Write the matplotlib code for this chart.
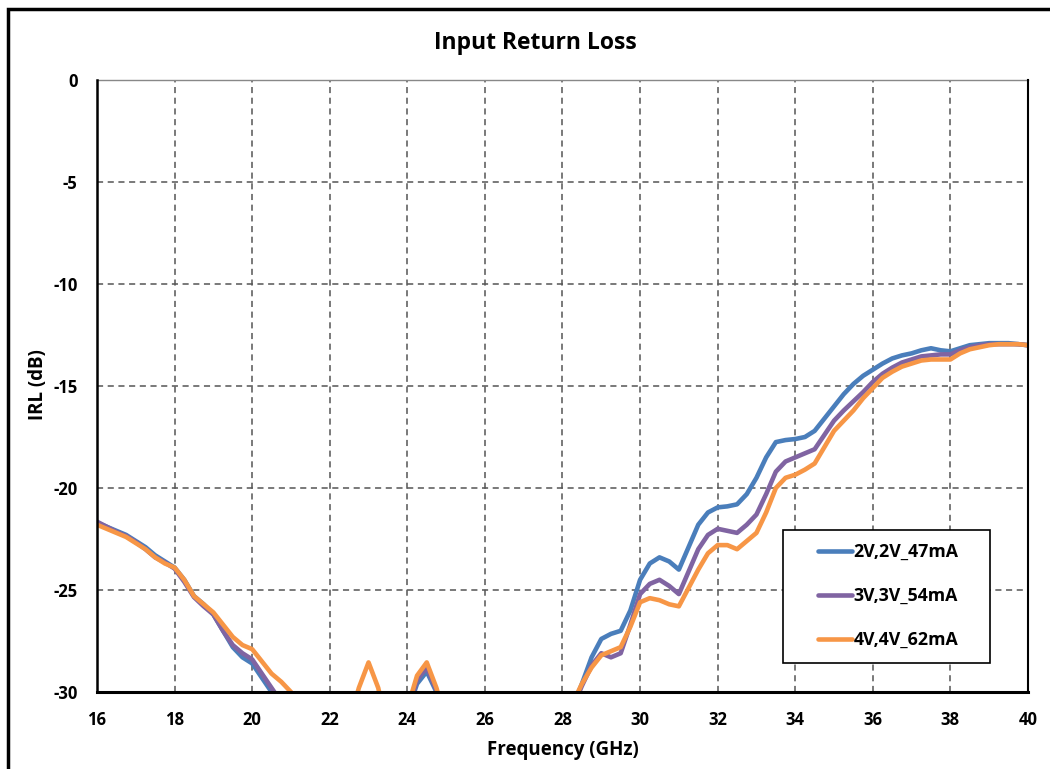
import numpy as np
import matplotlib
matplotlib.use("Agg")
import matplotlib.pyplot as plt
from matplotlib.patches import Rectangle

plt.rcParams['font.family'] = ['Open Sans', 'DejaVu Sans']
plt.rcParams['font.weight'] = 'bold'
plt.rcParams['axes.unicode_minus'] = False

freq_ghz = [16.0, 16.25, 16.5, 16.75, 17.0, 17.25, 17.5, 17.75, 18.0, 18.25, 18.5, 18.75,
            19.0, 19.25, 19.5, 19.75, 20.0, 20.25, 20.5, 20.75, 21.0, 21.25, 21.5, 21.75,
            22.0, 22.25, 22.5, 22.75, 23.0, 23.25, 23.5, 23.75, 24.0, 24.25, 24.5, 24.75,
            25.0, 25.25, 25.5, 25.75, 26.0, 26.25, 26.5, 26.75, 27.0, 27.25, 27.5, 27.75,
            28.0, 28.25, 28.5, 28.75, 29.0, 29.25, 29.5, 29.75, 30.0, 30.25, 30.5, 30.75,
            31.0, 31.25, 31.5, 31.75, 32.0, 32.25, 32.5, 32.75, 33.0, 33.25, 33.5, 33.75,
            34.0, 34.25, 34.5, 34.75, 35.0, 35.25, 35.5, 35.75, 36.0, 36.25, 36.5, 36.75,
            37.0, 37.25, 37.5, 37.75, 38.0, 38.25, 38.5, 38.75, 39.0, 39.25, 39.5, 39.75, 40.0]

irl_2v = [-21.7, -21.9, -22.1, -22.3, -22.6, -22.9, -23.3, -23.6, -23.9, -24.5, -25.3, -25.7,
          -26.2, -27.0, -27.8, -28.3, -28.6, -29.3, -30.0, -30.8, -31.5, -32.5, -33.5, -34.5,
          -35.0, -35.0, -34.0, -33.0, -32.0, -32.5, -33.0, -32.0, -31.0, -29.6, -29.0, -30.0,
          -31.5, -33.0, -34.5, -35.0, -35.0, -35.0, -35.0, -35.0, -35.0, -35.0, -34.5, -33.0,
          -32.0, -30.8, -29.6, -28.3, -27.4, -27.15, -27.0, -26.0, -24.5, -23.7, -23.4, -23.6,
          -24.0, -22.9, -21.8, -21.2, -20.95, -20.9, -20.8, -20.3, -19.5, -18.5, -17.75, -17.65,
          -17.6, -17.5, -17.2, -16.6, -16.0, -15.4, -14.9, -14.5, -14.2, -13.9, -13.65, -13.5,
          -13.4, -13.25, -13.15, -13.25, -13.3, -13.15, -13.0, -12.95, -12.9, -12.9, -12.9, -12.95, -13.0]

irl_3v = [-21.65, -21.9, -22.15, -22.35, -22.65, -23.0, -23.4, -23.65, -23.95, -24.6, -25.35, -25.8,
          -26.2, -27.0, -27.7, -28.1, -28.4, -29.1, -29.8, -30.5, -31.3, -32.3, -33.3, -34.3,
          -35.0, -35.0, -34.0, -33.0, -32.0, -32.5, -33.0, -32.0, -31.0, -29.4, -28.8, -29.9,
          -31.5, -33.0, -34.5, -35.0, -35.0, -35.0, -35.0, -35.0, -35.0, -35.0, -34.5, -33.0,
          -32.0, -30.8, -29.7, -28.7, -28.1, -28.3, -28.1, -26.7, -25.2, -24.7, -24.5, -24.8,
          -25.2, -24.1, -23.0, -22.3, -22.0, -22.1, -22.2, -21.8, -21.3, -20.3, -19.2, -18.7,
          -18.5, -18.3, -18.1, -17.4, -16.7, -16.2, -15.75, -15.3, -14.8, -14.4, -14.1, -13.85,
          -13.7, -13.55, -13.5, -13.45, -13.45, -13.25, -13.1, -13.0, -12.95, -12.95, -12.95, -12.95, -13.0]

irl_4v = [-21.8, -22.0, -22.2, -22.4, -22.7, -23.0, -23.4, -23.7, -23.9, -24.5, -25.3, -25.7,
          -26.1, -26.7, -27.3, -27.7, -27.9, -28.5, -29.1, -29.5, -30.0, -31.0, -32.0, -33.0,
          -34.0, -33.0, -31.5, -29.8, -28.55, -29.8, -32.0, -32.0, -30.8, -29.2, -28.55, -29.8,
          -31.5, -33.0, -34.5, -35.0, -35.0, -35.0, -35.0, -35.0, -35.0, -35.0, -34.5, -33.0,
          -31.8, -30.6, -29.6, -28.8, -28.2, -28.0, -27.8, -26.8, -25.6, -25.4, -25.5, -25.7,
          -25.8, -24.9, -24.0, -23.2, -22.8, -22.8, -23.0, -22.6, -22.2, -21.2, -20.0, -19.5,
          -19.35, -19.1, -18.8, -18.0, -17.2, -16.7, -16.2, -15.6, -15.1, -14.6, -14.3, -14.05,
          -13.9, -13.75, -13.7, -13.7, -13.7, -13.4, -13.2, -13.1, -13.0, -12.95, -12.95, -12.95, -13.0]

series_labels = ['2V,2V_47mA', '3V,3V_54mA', '4V,4V_62mA']
series_colors = ['#4A7EBB', '#8064A2', '#F79646']
x_ticks = [16, 18, 20, 22, 24, 26, 28, 30, 32, 34, 36, 38, 40]
y_ticks = [0, -5, -10, -15, -20, -25, -30]

W, H = 1050, 769
fig = plt.figure(figsize=(W / 100, H / 100), dpi=100)
ax = fig.add_axes([97 / W, 1 - 692 / H, (1028 - 97) / W, (692 - 80) / H])

for vals, lab, col in zip([irl_2v, irl_3v, irl_4v], series_labels, series_colors):
    ax.plot(freq_ghz, vals, color=col, lw=3.3, label=lab, solid_capstyle='round',
            solid_joinstyle='round', zorder=3)

ax.set_xlim(16, 40)
ax.set_ylim(-30, 0)
ax.set_xticks(x_ticks)
ax.set_yticks(y_ticks)
ax.tick_params(axis='both', length=0, labelsize=12)
ax.tick_params(axis='x', pad=14)
ax.tick_params(axis='y', pad=14)
for lbl in ax.get_xticklabels() + ax.get_yticklabels():
    lbl.set_fontweight('bold')

ax.grid(True, linestyle=(0, (4, 3)), color='#555555', lw=1.1)
ax.set_axisbelow(True)

ax.spines['left'].set_linewidth(1.8)
ax.spines['bottom'].set_linewidth(2.2)
ax.spines['right'].set_linewidth(1.5)
ax.spines['top'].set_linewidth(1.0)
ax.spines['top'].set_color('#888888')
for s in ['left', 'bottom', 'right']:
    ax.spines[s].set_color('black')
    ax.spines[s].set_zorder(4)

ax.set_xlabel('Frequency (GHz)', fontsize=13.5, fontweight='bold')
ax.set_ylabel('IRL (dB)', fontsize=13.5, fontweight='bold')
ax.xaxis.set_label_coords(0.5, (692 - 750) / 612, transform=ax.transAxes)
ax.yaxis.set_label_coords((38 - 97) / 931, (692 - 385) / 612, transform=ax.transAxes)
ax.xaxis.label.set_va('center')
ax.yaxis.label.set_va('center')

fig.text(535 / W, 1 - 43 / H, 'Input Return Loss', fontsize=16.5, fontweight='bold',
         ha='center', va='center')

# legend box
ax.add_patch(Rectangle(((783 - 97) / 931, (692 - 663) / 612), (990 - 783) / 931, (663 - 530) / 612,
                       transform=ax.transAxes, facecolor='white', edgecolor='black', lw=1.2, zorder=5))
leg = ax.legend(loc='center left', bbox_to_anchor=((818 - 97) / 931, (692 - 596) / 612),
                frameon=False, fontsize=12.8, handlelength=1.9, handletextpad=0.1,
                labelspacing=1.45, borderpad=0, borderaxespad=0)
leg.set_zorder(6)
for t in leg.get_texts():
    t.set_fontweight('bold')
for h in leg.get_lines():
    h.set_linewidth(3.3)

# outer chart border
fig.add_artist(Rectangle((8 / W, -0.05), 1.1, 1.05 - 9 / H, transform=fig.transFigure,
                         facecolor='none', edgecolor='black', lw=2.5, clip_on=False))

fig.savefig('out.png', dpi=100)
